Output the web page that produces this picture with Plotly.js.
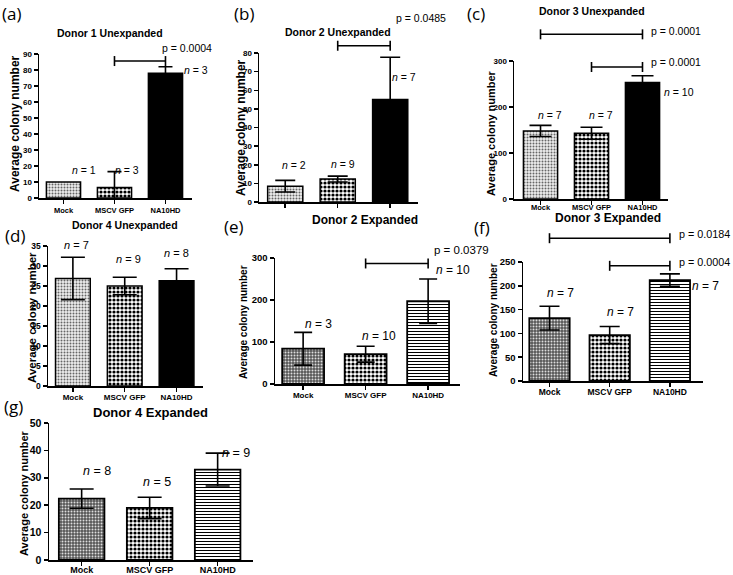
<!DOCTYPE html>
<html><head><meta charset="utf-8">
<script src="https://cdn.plot.ly/plotly-3.0.1.min.js"></script>
<style>html,body{margin:0;padding:0;background:#fff}#chart{width:733px;height:575px}</style>
</head><body><div id="chart"></div>
<script>
// ---------------- DATA ----------------
const categories = ['Mock', 'MSCV GFP', 'NA10HD'];
const catIndex = [0, 1, 2];
const panelLetters = ['(a)', '(b)', '(c)', '(d)', '(e)', '(f)', '(g)'];
const panelTitles = ['Donor 1 Unexpanded', 'Donor 2 Unexpanded', 'Donor 3 Unexpanded',
  'Donor 4 Unexpanded', 'Donor 2 Expanded', 'Donor 3 Expanded', 'Donor 4 Expanded'];
const yTitle = 'Average colony number';

const meanA = [10, 6.5, 78];   const errA = [0, 10, 4];    const nA = [1, 3, 3];
const meanB = [8.5, 12.3, 55]; const errB = [3.1, 1.6, 22.7]; const nB = [2, 9, 7];
const meanC = [148, 143, 253]; const errC = [12, 13, 15];  const nC = [7, 7, 10];
const meanD = [26.9, 25, 26.3]; const errD = [5.3, 2.2, 3]; const nD = [7, 9, 8];
const meanE = [84, 71, 197];   const errE = [39, 19, 53];  const nE = [3, 10, 10];
const meanF = [132, 96.5, 212]; const errF = [25, 18, 13]; const nF = [7, 7, 7];
const meanG = [22.4, 19, 33];  const errG = [3.5, 3.9, 6]; const nG = [8, 5, 9];

// significance brackets: from category, to category, height (data units), label
const sigA = [[1, 2, 85.6, 'p = 0.0004']];
const sigB = [[1, 2, 83.9, 'p = 0.0485']];
const sigC = [[0, 2, 358, 'p = 0.0001'], [1, 2, 287, 'p = 0.0001']];
const sigD = [];
const sigE = [[1, 2, 287, 'p = 0.0379']];
const sigF = [[0, 2, 300, 'p = 0.0184'], [1, 2, 242, 'p = 0.0004']];
const sigG = [];

const yMax = [90, 80, 300, 35, 300, 250, 50];
const yStep = [10, 10, 100, 5, 100, 50, 10];

// ---------------- LAYOUT / STYLE ----------------
const W = 733, H = 575;
const fx = p => p / W, fy = p => 1 - p / H;
const ARIAL = '"Liberation Sans", Arial, sans-serif';
const LETTER = '"Open Sans", "Noto Sans", sans-serif';

const boxes = [
  {xl:39, xr:192, yb:198, yt:54, top:0, rx:[-0.48, 2.52], style:'u', cap:7, lw:1.5,
   ts:8, xts:7.5, so:0, showX:true, title:[110, 33, 10.5], ylab:[15, 124, 12],
   letter:[0, 13], nPos:[[84, 170], [127, 170], [196, 70]], nS:10.5,
   pPos:[[160, 48]], pS:10.5},
  {xl:259, xr:418, yb:202, yt:53, top:0, rx:[-0.5, 2.53], style:'u', cap:10, lw:1.5,
   ts:8, xts:7.5, so:0, showX:false, title:[338, 32, 10.5], ylab:[241, 128, 12],
   letter:[232, 13], nPos:[[294, 165], [343, 164], [404, 77]], nS:10.5,
   pPos:[[394, 18]], pS:10.5},
  {xl:514, xr:668, yb:199, yt:61, top:0, rx:[-0.52, 2.5], style:'u', cap:11, lw:1.5,
   ts:8, xts:7.5, so:-4, showX:true, title:[592, 11, 10.5], ylab:[491, 133, 11],
   letter:[465, 14], nPos:[[550, 115], [601, 115], [679, 92]], nS:10.5,
   pPos:[[649, 31], [649, 62]], pS:10.5},
  {xl:48, xr:203, yb:386, yt:246, top:210, rx:[-0.48, 2.51], style:'u', cap:12, lw:1.5,
   ts:8.5, xts:8, so:-1, showX:true, title:[125, 225, 10.5], ylab:[32, 318, 11.5],
   letter:[3, 235], nPos:[[76, 245], [128, 259], [176, 253]], nS:11,
   pPos:[], pS:10.5},
  {xl:275, xr:460, yb:384, yt:258, top:205, rx:[-0.45, 2.51], style:'e', cap:9, lw:1.8,
   ts:9.5, xts:8, so:-1, showX:true, title:[365, 220, 12], ylab:[243, 322, 10],
   letter:[222, 226], nPos:[[318, 324], [379, 336], [453, 270]], nS:12,
   pPos:[[432, 250]], pS:11.5},
  {xl:523, xr:703, yb:381, yt:262, top:205, rx:[-0.44, 2.55], style:'e', cap:10, lw:1.8,
   ts:9.5, xts:8.5, so:-2, showX:true, title:[608, 218, 12], ylab:[493, 320, 10],
   letter:[472, 227], nPos:[[560, 293], [620, 312], [705, 286]], nS:12,
   pPos:[[677, 234], [677, 262]], pS:10.8},
  {xl:49, xr:253, yb:560, yt:423, top:390, rx:[-0.48, 2.52], style:'e', cap:12, lw:1.8,
   ts:10.5, xts:9, so:-3, showX:true, title:[150, 412, 13], ylab:[24, 493, 11],
   letter:[2, 406], nPos:[[97, 471], [157, 482], [236, 453]], nS:12.5,
   pPos:[], pS:12}
];

const means = [meanA, meanB, meanC, meanD, meanE, meanF, meanG];
const errs = [errA, errB, errC, errD, errE, errF, errG];
const ns = [nA, nB, nC, nD, nE, nF, nG];
const sigs = [sigA, sigB, sigC, sigD, sigE, sigF, sigG];

// fills for each category: unexpanded (u) and expanded (e) panels
const fills = {
  u: [{shape:'.', fg:'#666', bg:'#eeeeee', size:3, sol:0.35},
      {shape:'.', fg:'#000', bg:'#ffffff', size:4, sol:0.5},
      {shape:'', fg:'#000', bg:'#000000', size:8, sol:0.3}],
  e: [{shape:'.', fg:'#dddddd', bg:'#555555', size:3, sol:0.35},
      {shape:'.', fg:'#000', bg:'#ffffff', size:4, sol:0.5},
      {shape:'-', fg:'#000', bg:'#ffffff', size:3, sol:0.35}]
};

const traces = [];
const layout = {
  width: W, height: H, margin: {l:0, r:0, t:0, b:0}, barmode: 'overlay',
  paper_bgcolor: '#fff', plot_bgcolor: 'rgba(0,0,0,0)',
  showlegend: false, shapes: [], annotations: []
};

boxes.forEach((b, i) => {
  const k = i + 1, sfx = k === 1 ? '' : String(k);
  const hk = k + 7;
  catIndex.forEach(j => {
    const f = fills[b.style][j];
    const marker = {color: f.bg, line: {color: '#000', width: b.lw}};
    if (f.shape) marker.pattern = {shape: f.shape, fgcolor: f.fg, bgcolor: f.bg,
                                   size: f.size, solidity: f.sol, fillmode: 'replace'};
    traces.push({
      type: 'bar', x: [catIndex[j]], y: [means[i][j]], width: 0.67,
      xaxis: 'x' + sfx, yaxis: 'y' + sfx, hoverinfo: 'skip', opacity: 1,
      marker: marker,
      error_y: {type: 'data', array: [errs[i][j]], visible: errs[i][j] > 0, color: '#000',
                thickness: 1.6, width: b.cap}
    });
  });
  layout['xaxis' + sfx] = {
    domain: [fx(b.xl), fx(b.xr)], range: b.rx, anchor: 'y' + sfx,
    tickvals: catIndex, ticktext: b.showX ? categories : ['', '', ''],
    ticks: 'outside', ticklen: 4, tickwidth: 1.5, tickcolor: '#000', ticklabelstandoff: b.so,
    showline: true, linecolor: '#000', linewidth: 1.5, showgrid: false, zeroline: false,
    tickfont: {family: ARIAL, size: b.xts, color: '#000', weight: 'bold'}, fixedrange: true
  };
  layout['yaxis' + sfx] = {
    domain: [fy(b.yb), fy(b.yt)], range: [0, yMax[i]], dtick: yStep[i], tick0: 0,
    anchor: 'x' + sfx, ticks: 'outside', ticklen: 4, tickwidth: 1.5, tickcolor: '#000',
    showline: true, linecolor: '#000', linewidth: 1.5, showgrid: false, zeroline: false,
    tickfont: {family: ARIAL, size: b.ts, color: '#000', weight: 'bold'}, fixedrange: true
  };
  // hidden axis with the same scale, extending up to the panel top, for significance brackets
  const extMax = yMax[i] * (b.yb - b.top) / (b.yb - b.yt);
  layout['yaxis' + hk] = {
    domain: [fy(b.yb), fy(b.top)], range: [0, extMax], anchor: 'x' + sfx,
    visible: false, showgrid: false, zeroline: false, fixedrange: true
  };
  sigs[i].forEach((s, j) => {
    const ln = {color: '#000', width: 1.6};
    layout.shapes.push({type: 'line', xref: 'x' + sfx, yref: 'y' + hk,
      x0: s[0], x1: s[1], y0: s[2], y1: s[2], line: ln});
    [s[0], s[1]].forEach(xv => layout.shapes.push({type: 'line', xref: 'x' + sfx, yref: 'y' + hk,
      ysizemode: 'pixel', yanchor: s[2], x0: xv, x1: xv, y0: -5, y1: 5, line: ln}));
    const pp = b.pPos[j];
    layout.annotations.push({text: s[3], xref: 'paper', yref: 'paper', x: fx(pp[0]), y: fy(pp[1]),
      xanchor: 'left', yanchor: 'middle', showarrow: false,
      font: {family: ARIAL, size: b.pS, color: '#000'}});
  });
  layout.annotations.push({text: panelLetters[i], xref: 'paper', yref: 'paper',
    x: fx(b.letter[0]), y: fy(b.letter[1]), xanchor: 'left', yanchor: 'middle', showarrow: false,
    font: {family: LETTER, size: 17, color: '#000'}});
  layout.annotations.push({text: '<b>' + panelTitles[i] + '</b>', xref: 'paper', yref: 'paper',
    x: fx(b.title[0]), y: fy(b.title[1]), xanchor: 'center', yanchor: 'middle', showarrow: false,
    font: {family: ARIAL, size: b.title[2], color: '#000'}});
  layout.annotations.push({text: '<b>' + yTitle + '</b>', xref: 'paper', yref: 'paper',
    x: fx(b.ylab[0]), y: fy(b.ylab[1]), xanchor: 'center', yanchor: 'middle', textangle: -90,
    showarrow: false, font: {family: ARIAL, size: b.ylab[2], color: '#000'}});
  ns[i].forEach((n, j) => {
    const np = b.nPos[j];
    layout.annotations.push({text: '<i>n</i> = ' + n, xref: 'paper', yref: 'paper',
      x: fx(np[0]), y: fy(np[1]), xanchor: 'center', yanchor: 'middle', showarrow: false,
      font: {family: ARIAL, size: b.nS, color: '#000'}});
  });
});

Plotly.newPlot('chart', traces, layout, {staticPlot: true, displayModeBar: false});
</script></body></html>
